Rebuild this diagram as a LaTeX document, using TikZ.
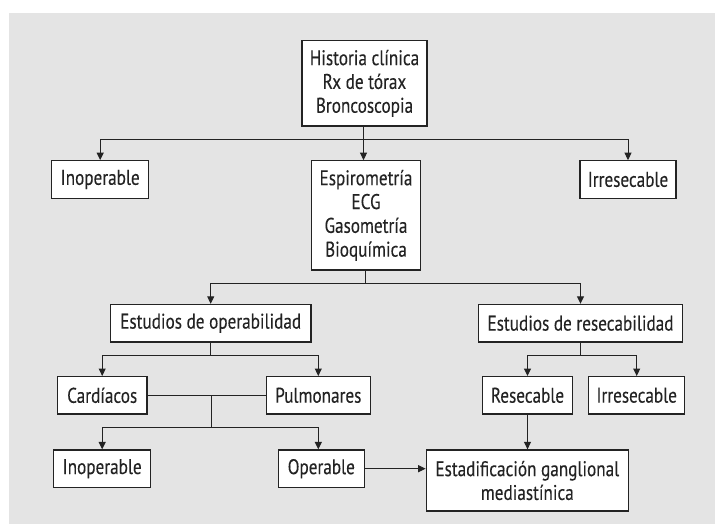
\documentclass[tikz,border=0pt]{standalone}
\usepackage{fontspec}
\setmainfont[FakeStretch=0.81,FakeBold=0.15]{PT Sans}
\usetikzlibrary{arrows.meta}
\definecolor{bg}{HTML}{E4E4E4}
\definecolor{ink}{HTML}{232323}
\begin{document}
\begin{tikzpicture}[x=1pt,y=-1pt,
  box/.style={draw=ink,line width=1.3pt,fill=white,inner sep=0pt,align=center,
    text=ink,font=\fontsize{21.2}{23.8}\selectfont},
  conn/.style={draw=ink,line width=1pt},
  arr/.style={conn,-{Triangle[length=7.5pt,width=7pt]}}]
\useasboundingbox (0,0) rectangle (715,524);
\fill[bg] (9,13) rectangle (715,524);
% nodes
\node[box,minimum width=125pt,minimum height=85.2pt] (top) at (364.5,83.4) {Historia clínica\\Rx de tórax\\Broncoscopia};
\node[box,minimum width=97pt,minimum height=37.4pt] (inop1) at (100.2,179.5) {Inoperable};
\node[box,minimum width=109pt,minimum height=109.2pt] (espir) at (366,215.4) {Espirometría\\ECG\\Gasometría\\Bioquímica};
\node[box,minimum width=96pt,minimum height=37.4pt] (irres1) at (628,179.5) {Irresecable};
\node[box,minimum width=200.6pt,minimum height=37.5pt] (op) at (210.7,323.2) {Estudios de operabilidad};
\node[box,minimum width=204.4pt,minimum height=37.5pt] (res) at (580.5,323.2) {Estudios de resecabilidad};
\node[box,minimum width=89.7pt,minimum height=37.3pt] (card) at (102.2,395.3) {Cardíacos};
\node[box,minimum width=104pt,minimum height=37.3pt] (pulm) at (318.3,395.3) {Pulmonares};
\node[box,minimum width=89.6pt,minimum height=37.3pt] (resec) at (527.5,395.3) {Resecable};
\node[box,minimum width=96pt,minimum height=37.3pt] (irres2) at (636.7,395.3) {Irresecable};
\node[box,minimum width=97pt,minimum height=37.3pt] (inop2) at (102.2,468.7) {Inoperable};
\node[box,minimum width=86pt,minimum height=37.3pt] (oper) at (321.3,468.7) {Operable};
\node[box,minimum width=202pt,minimum height=61pt] (estad) at (527.3,480.5) {Estadificación ganglional\\mediastínica};
% junction coordinates
\coordinate (j1) at (363.5,139.4);
\coordinate (j2) at (365,283.4);
\coordinate (j3) at (210.7,355.3);
\coordinate (j4) at (580.5,355.3);
\coordinate (j5) at (211,395.3);
\coordinate (j6) at (211,427.7);
% connectors
\draw[conn] (top.south -| j1) -- (j1);
\draw[arr] (j1) -| (inop1.north);
\draw[arr] (j1) -| (irres1.north);
\draw[arr] (j1) -- (j1 |- espir.north);
\draw[conn] (espir.south -| j2) -- (j2);
\draw[arr] (j2) -| (op.north);
\draw[arr] (j2) -| (res.north);
\draw[conn] (op.south) -- (j3);
\draw[arr] (j3) -| (card.north);
\draw[arr] (j3) -| (pulm.north);
\draw[conn] (card.east) -- (pulm.west);
\draw[conn] (j5) -- (j6);
\draw[arr] (j6) -| (inop2.north);
\draw[arr] (j6) -| (pulm.north |- oper.north);
\draw[conn] (res.south) -- (j4);
\draw[arr] (j4) -| (resec.north);
\draw[arr] (j4) -| (irres2.north);
\draw[arr] (resec.south) -- (estad.north -| resec.south);
\draw[arr] (oper.east) -- (oper.east -| estad.west);
\end{tikzpicture}
\end{document}
